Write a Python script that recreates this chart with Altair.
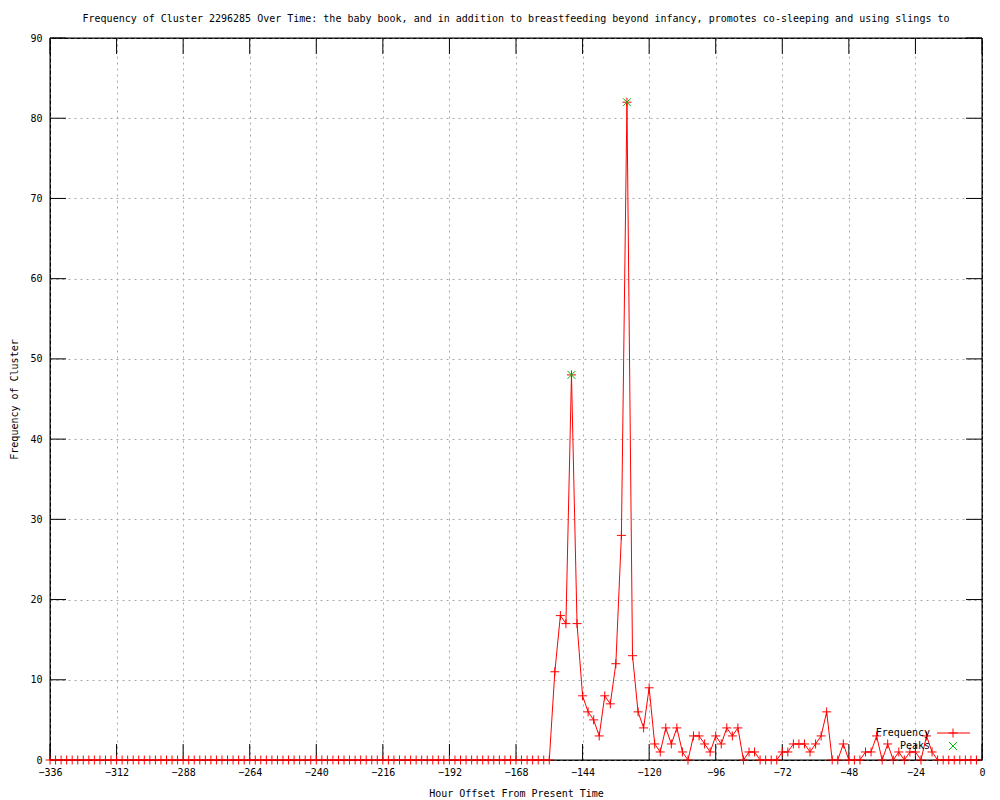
import altair as alt
import pandas as pd

# ---- data ----
hours = list(range(-336, 0, 2))
freq = [
    0, 0, 0, 0, 0, 0, 0, 0, 0, 0, 0, 0, 0, 0, 0, 0, 0, 0, 0, 0,
    0, 0, 0, 0, 0, 0, 0, 0, 0, 0, 0, 0, 0, 0, 0, 0, 0, 0, 0, 0,
    0, 0, 0, 0, 0, 0, 0, 0, 0, 0, 0, 0, 0, 0, 0, 0, 0, 0, 0, 0,
    0, 0, 0, 0, 0, 0, 0, 0, 0, 0, 0, 0, 0, 0, 0, 0, 0, 0, 0, 0,
    0, 0, 0, 0, 0, 0, 0, 0, 0, 0, 0,
    11, 18, 17, 48, 17, 8, 6, 5, 3, 8, 7, 12, 28, 82, 13, 6, 4, 9,
    2, 1, 4, 2, 4, 1, 0, 3, 3, 2, 1, 3, 2, 4, 3, 4, 0,
    1, 1, 0, 0, 0, 0, 1, 1, 2, 2, 2, 1, 2, 3, 6, 0, 0, 2, 0,
    0, 0, 1, 1, 3, 0, 2, 0, 1, 0, 1, 1, 0, 3, 1, 0,
    0, 0, 0, 0, 0, 0, 0,
]
peak_hours = [-148, -128]
peak_values = [48, 82]
x_ticks = [-336, -312, -288, -264, -240, -216, -192, -168, -144, -120, -96, -72, -48, -24, 0]
y_ticks = [0, 10, 20, 30, 40, 50, 60, 70, 80, 90]
legend_labels = ["Frequency", "Peaks"]
title_text = ("Frequency of Cluster 2296285 Over Time: the baby book, and in addition to "
              "breastfeeding beyond infancy, promotes co-sleeping and using slings to")

df = pd.DataFrame({"hour": hours, "freq": freq})
pk = pd.DataFrame({"hour": peak_hours, "freq": peak_values})
xt = pd.DataFrame({"hour": x_ticks})
yt = pd.DataFrame({"freq": y_ticks})

W, H = 932, 722
FONT = "DejaVu Sans Mono"
PLUS = "M-1,0L1,0M0,-1L0,1"
XSHP = "M-1,-1L1,1M-1,1L1,-1"
RED = "#ff0000"
GREEN = "#00c000"
GRID = "#a8a8a8"

xscale = alt.Scale(domain=[-336, 0], nice=False, zero=False)
yscale = alt.Scale(domain=[0, 90], nice=False)

xaxis = alt.Axis(values=x_ticks, grid=True, gridColor=GRID, gridDash=[2, 4],
                 gridWidth=1, ticks=False, domain=False, labelPadding=7,
                 labelFlush=False, labelOverlap=False,
                 labelFont=FONT, labelFontSize=10, labelColor="black",
                 title="Hour Offset From Present Time", titleFont=FONT,
                 titleFontSize=10, titleFontWeight="normal", titleColor="black",
                 titleY=33, titleBaseline="middle")
yaxis = alt.Axis(values=y_ticks, grid=True, gridColor=GRID, gridDash=[2, 4],
                 gridWidth=1, ticks=False, domain=False, labelPadding=8,
                 labelFlush=False, labelOverlap=False,
                 labelFont=FONT, labelFontSize=10, labelColor="black",
                 title="Frequency of Cluster", titleFont=FONT, titleFontSize=10,
                 titleFontWeight="normal", titleColor="black",
                 titleX=-36, titleY=H / 2, titleAngle=270,
                 titleBaseline="middle", titleAlign="center")

base = alt.Chart(df).encode(
    x=alt.X("hour:Q", scale=xscale, axis=xaxis),
    y=alt.Y("freq:Q", scale=yscale, axis=yaxis),
)
line = base.mark_line(color=RED, strokeWidth=1)
pts = base.mark_point(shape=PLUS, size=81, filled=False, color=RED,
                      strokeWidth=1, opacity=1)
peaks = alt.Chart(pk).mark_point(shape=XSHP, size=64, filled=False, color=GREEN,
                                 strokeWidth=1, opacity=1).encode(
    x=alt.X("hour:Q", scale=xscale),
    y=alt.Y("freq:Q", scale=yscale),
)

# inward tick marks (bottom/top, left/right mirrored, gnuplot style)
tb = alt.Chart(xt).mark_rule(color="black", strokeWidth=1).encode(
    x=alt.X("hour:Q", scale=xscale), y=alt.value(H), y2=alt.value(H - 16))
tt = alt.Chart(xt).mark_rule(color="black", strokeWidth=1).encode(
    x=alt.X("hour:Q", scale=xscale), y=alt.value(0), y2=alt.value(16))
tl = alt.Chart(yt).mark_rule(color="black", strokeWidth=1).encode(
    y=alt.Y("freq:Q", scale=yscale), x=alt.value(0), x2=alt.value(16))
tr = alt.Chart(yt).mark_rule(color="black", strokeWidth=1).encode(
    y=alt.Y("freq:Q", scale=yscale), x=alt.value(W - 16), x2=alt.value(W))

# solid frame drawn above the grid
frame_df = pd.DataFrame({"k": [0]})
fb = alt.Chart(frame_df).mark_rule(color="black", strokeWidth=1).encode(
    x=alt.value(0), x2=alt.value(W), y=alt.value(H))
ft = alt.Chart(frame_df).mark_rule(color="black", strokeWidth=1).encode(
    x=alt.value(0), x2=alt.value(W), y=alt.value(0))
fl = alt.Chart(frame_df).mark_rule(color="black", strokeWidth=1).encode(
    x=alt.value(0), y=alt.value(0), y2=alt.value(H))
fr = alt.Chart(frame_df).mark_rule(color="black", strokeWidth=1).encode(
    x=alt.value(W), y=alt.value(0), y2=alt.value(H))

# legend (gnuplot style, bottom right inside the plot)
lg1 = pd.DataFrame({"label": [legend_labels[0]]})
lg2 = pd.DataFrame({"label": [legend_labels[1]]})
lt1 = alt.Chart(lg1).mark_text(align="right", baseline="middle", font=FONT,
                               fontSize=10, color="black").encode(
    text="label:N", x=alt.value(880), y=alt.value(695))
lt2 = alt.Chart(lg2).mark_text(align="right", baseline="middle", font=FONT,
                               fontSize=10, color="black").encode(
    text="label:N", x=alt.value(880), y=alt.value(708))
ll = alt.Chart(lg1).mark_rule(color=RED, strokeWidth=1).encode(
    x=alt.value(887), x2=alt.value(920), y=alt.value(695))
lp = alt.Chart(lg1).mark_point(shape=PLUS, size=81, filled=False, color=RED,
                               strokeWidth=1, opacity=1).encode(
    x=alt.value(903), y=alt.value(695))
lx = alt.Chart(lg2).mark_point(shape=XSHP, size=64, filled=False, color=GREEN,
                               strokeWidth=1, opacity=1).encode(
    x=alt.value(903), y=alt.value(708))

chart = alt.layer(tb, tt, tl, tr, fb, ft, fl, fr, line, pts, peaks,
                  lt1, lt2, ll, lp, lx).properties(
    width=W, height=H,
    title=alt.TitleParams(text=title_text, font=FONT, fontSize=10,
                          fontWeight="normal", color="black", anchor="middle",
                          offset=9),
    padding={"left": 42, "top": 30, "right": 10, "bottom": 40},
    autosize=alt.AutoSizeParams(type="none"),
    background="white",
).configure_view(stroke="black", strokeWidth=1)

chart.save("out.html", embed_options={"renderer": "svg", "actions": False})
